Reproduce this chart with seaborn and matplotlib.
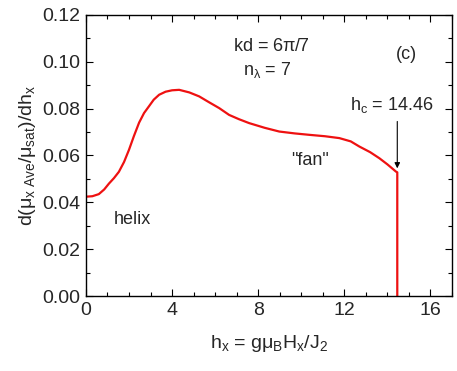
import numpy as np
import pandas as pd
import matplotlib
matplotlib.use("Agg")
import matplotlib.pyplot as plt
import seaborn as sns

h_x = [0.0, 0.3, 0.6, 0.85, 1.07, 1.3, 1.53, 1.77, 2.0, 2.23, 2.47, 2.7, 2.93,
       3.15, 3.4, 3.7, 4.0, 4.33, 4.8, 5.26, 5.7, 6.19, 6.65, 7.1, 7.58, 8.3,
       8.98, 9.7, 10.37, 11.1, 11.77, 12.3, 12.7, 13.2, 13.63, 14.0, 14.4,
       14.46, 14.46]
deriv = [0.0424, 0.0426, 0.0435, 0.0455, 0.048, 0.0503, 0.053, 0.0572, 0.0624,
         0.0683, 0.074, 0.0781, 0.081, 0.0838, 0.0859, 0.0872, 0.0878, 0.0880,
         0.0869, 0.0852, 0.0828, 0.0802, 0.0773, 0.0755, 0.0738, 0.0718,
         0.0702, 0.0694, 0.0688, 0.0682, 0.0674, 0.0660, 0.0638, 0.0614,
         0.0588, 0.0562, 0.0531, 0.0528, 0.0]

x_ticks = [0, 4, 8, 12, 16]
y_ticks = [0.00, 0.02, 0.04, 0.06, 0.08, 0.10, 0.12]

sns.set_style("ticks")
plt.rcParams['font.family'] = ['Liberation Sans', 'DejaVu Sans']
plt.rcParams['mathtext.fontset'] = 'custom'
plt.rcParams['mathtext.rm'] = 'Liberation Sans'
plt.rcParams['mathtext.it'] = 'Liberation Sans'
plt.rcParams['mathtext.bf'] = 'Liberation Sans:bold'

fig = plt.figure(figsize=(4.57, 3.71), dpi=100)
ax = fig.add_axes([0.188, 0.202, 0.801, 0.758])

df = pd.DataFrame({"h": h_x, "d": deriv})
sns.lineplot(data=df, x="h", y="d", sort=False, estimator=None,
             color="#ee1111", lw=1.6, ax=ax)

ax.set_xlim(0, 17)
ax.set_ylim(0, 0.12)
ax.set_xticks(x_ticks)
ax.set_xticklabels([str(t) for t in x_ticks])
ax.set_yticks(y_ticks)
ax.set_yticklabels([f"{t:.2f}" for t in y_ticks])
ax.set_xticks(np.arange(0, 17.01, 1), minor=True)
ax.set_yticks(np.arange(0, 0.1201, 0.01), minor=True)
ax.tick_params(which='both', direction='in', top=True, right=True, labelsize=14, color='black')
ax.tick_params(which='major', length=5, width=0.8, pad=4)
ax.tick_params(which='minor', length=3, width=0.8)
for s in ax.spines.values():
    s.set_linewidth(1.0)
    s.set_color('black')

ax.set_xlabel(r"h$_x$ = g$\mu_B$H$_x$/J$_2$", fontsize=14, labelpad=10)
ax.set_ylabel(r"d($\mu_{x\ \mathrm{Ave}}$/$\mu_{\mathrm{sat}}$)/dh$_x$", fontsize=14, labelpad=3)

tk = dict(fontsize=13, ha='center', va='center')
ax.text(8.6, 0.1065, r"kd = 6$\pi$/7", **tk)
ax.text(8.4, 0.0966, r"n$_\lambda$ = 7", **tk)
ax.text(14.9, 0.103, "(c)", **tk)
ax.text(14.2, 0.0816, r"h$_c$ = 14.46", **tk)
ax.text(10.4, 0.058, '"fan"', **tk)
ax.text(2.14, 0.0325, "helix", **tk)
ax.annotate("", xy=(14.46, 0.0545), xytext=(14.46, 0.0745),
            arrowprops=dict(arrowstyle="-|>", color="black", lw=0.8,
                            mutation_scale=8, shrinkA=0, shrinkB=0))

fig.savefig("out.png", dpi=100)
